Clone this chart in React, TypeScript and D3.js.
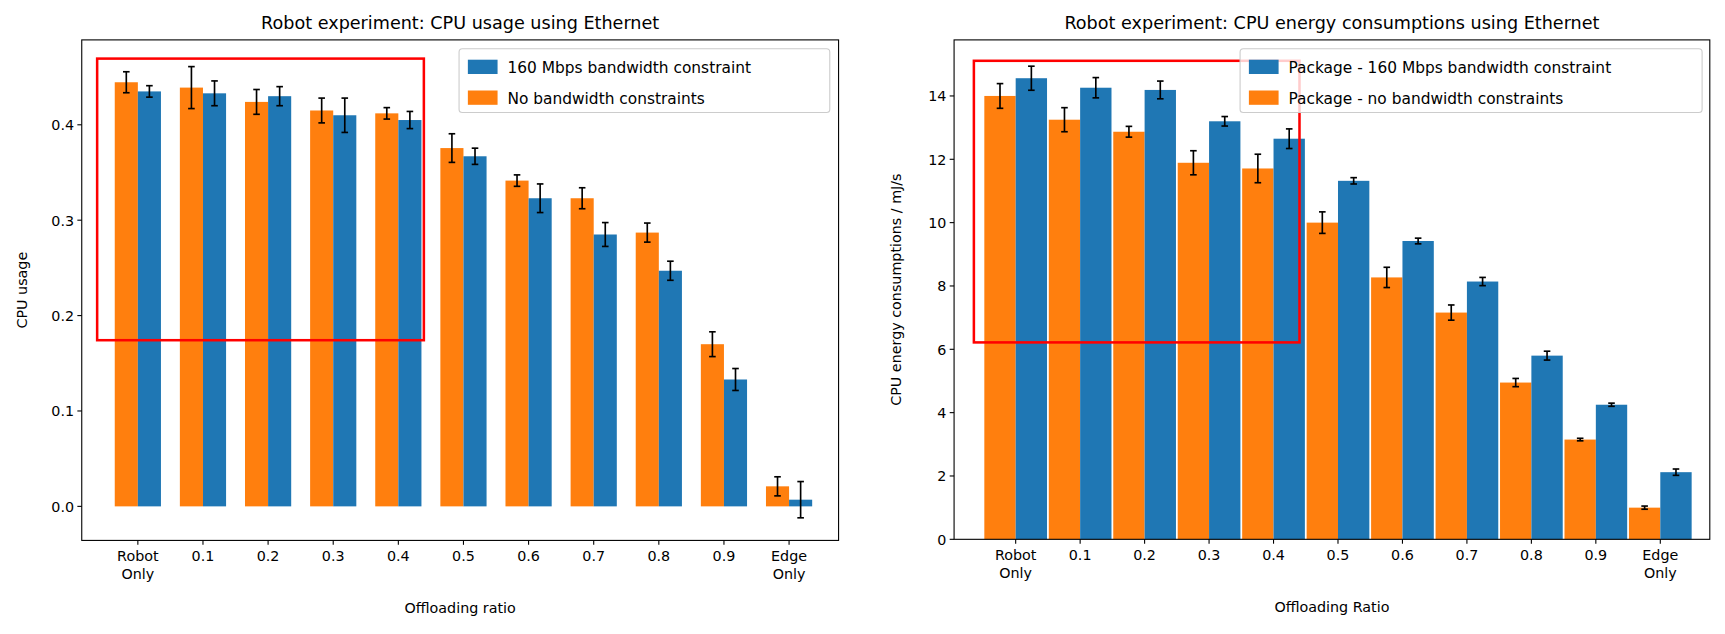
import React from "react";
import * as d3 from "d3";

const categories = ["Robot\nOnly", "0.1", "0.2", "0.3", "0.4", "0.5", "0.6", "0.7", "0.8", "0.9", "Edge\nOnly"];
const cpuNoLimit = [0.4446, 0.439, 0.424, 0.415, 0.412, 0.3756, 0.3415, 0.323, 0.287, 0.170, 0.021];
const cpuNoLimitErr = [0.011, 0.022, 0.013, 0.013, 0.006, 0.015, 0.006, 0.011, 0.01, 0.013, 0.01];
const cpu160 = [0.435, 0.433, 0.430, 0.410, 0.405, 0.367, 0.323, 0.285, 0.247, 0.133, 0.007];
const cpu160Err = [0.006, 0.013, 0.010, 0.018, 0.009, 0.0085, 0.015, 0.0125, 0.01, 0.0115, 0.019];
const enNoLimit = [14.0, 13.25, 12.87, 11.89, 11.71, 10.0, 8.27, 7.16, 4.95, 3.15, 1.0];
const enNoLimitErr = [0.39, 0.38, 0.17, 0.38, 0.45, 0.34, 0.32, 0.24, 0.13, 0.04, 0.05];
const en160 = [14.56, 14.26, 14.19, 13.2, 12.65, 11.32, 9.42, 8.14, 5.8, 4.25, 2.12];
const en160Err = [0.38, 0.32, 0.28, 0.15, 0.31, 0.1, 0.09, 0.13, 0.14, 0.05, 0.1];
const cpuTicks = [0, 0.1, 0.2, 0.3, 0.4];
const enTicks = [0, 2, 4, 6, 8, 10, 12, 14];

const ORANGE = "#ff7f0e";
const BLUE = "#1f77b4";
const FONT = "DejaVu Sans, sans-serif";

type PanelProps = {
  left: number; right: number; top: number; bottom: number;
  yDomain: [number, number]; ticks: number[]; fmt: (v: number) => string;
  first: number; last: number; barW: number;
  a: number[]; aErr: number[]; b: number[]; bErr: number[];
  title: string; xlabel: string; ylabel: string; ylabelX: number;
  legend: { x: number; w: number; labels: [string, string] };
  box: [number, number, number, number];
};

function Panel(p: PanelProps) {
  const y = d3.scaleLinear().domain(p.yDomain).range([p.bottom, p.top]);
  const x = d3.scaleLinear().domain([0, categories.length - 1]).range([p.first, p.last]);
  const err = (cx: number, v: number, e: number, key: string) => (
    <g key={key} stroke="#000" strokeWidth={1.5}>
      <line x1={cx} x2={cx} y1={y(v - e)} y2={y(v + e)} />
      <line x1={cx - 3} x2={cx + 3} y1={y(v - e)} y2={y(v - e)} />
      <line x1={cx - 3} x2={cx + 3} y1={y(v + e)} y2={y(v + e)} />
    </g>
  );
  return (
    <g fontFamily={FONT}>
      <text x={(p.left + p.right) / 2} y={p.top - 10} textAnchor="middle" fontSize={16}>{p.title}</text>
      {categories.map((c, i) => {
        const cx = x(i);
        return (
          <g key={c}>
            <rect x={cx - p.barW} y={y(p.a[i])} width={p.barW} height={y(0) - y(p.a[i])} fill={ORANGE} />
            <rect x={cx} y={y(p.b[i])} width={p.barW} height={y(0) - y(p.b[i])} fill={BLUE} />
          </g>
        );
      })}
      {categories.map((c, i) => err(x(i) - p.barW / 2, p.a[i], p.aErr[i], "a" + i))}
      {categories.map((c, i) => err(x(i) + p.barW / 2, p.b[i], p.bErr[i], "b" + i))}
      <rect x={p.box[0]} y={p.box[1]} width={p.box[2] - p.box[0]} height={p.box[3] - p.box[1]} fill="none" stroke="#ff0000" strokeWidth={2.3} />
      <rect x={p.left} y={p.top} width={p.right - p.left} height={p.bottom - p.top} fill="none" stroke="#000" strokeWidth={1} />
      {p.ticks.map((t) => (
        <g key={t}>
          <line x1={p.left - 4} x2={p.left} y1={y(t)} y2={y(t)} stroke="#000" />
          <text x={p.left - 7} y={y(t) + 5} textAnchor="end" fontSize={13}>{p.fmt(t)}</text>
        </g>
      ))}
      {categories.map((c, i) => (
        <g key={c}>
          <line x1={x(i)} x2={x(i)} y1={p.bottom} y2={p.bottom + 4} stroke="#000" />
          {c.split("\n").map((s, k) => (
            <text key={k} x={x(i)} y={p.bottom + 19 + k * 16} textAnchor="middle" fontSize={13}>{s}</text>
          ))}
        </g>
      ))}
      <text x={(p.left + p.right) / 2} y={p.bottom + 66} textAnchor="middle" fontSize={13}>{p.xlabel}</text>
      <text transform={`translate(${p.ylabelX},${(p.top + p.bottom) / 2}) rotate(-90)`} textAnchor="middle" fontSize={13}>{p.ylabel}</text>
      <g>
        <rect x={p.legend.x} y={p.top + 8} width={p.legend.w} height={58} rx={3} fill="#fff" fillOpacity={0.8} stroke="#ccc" />
        <rect x={p.legend.x + 8} y={p.top + 18} width={27} height={13} fill={BLUE} />
        <text x={p.legend.x + 44} y={p.top + 30} fontSize={14}>{p.legend.labels[0]}</text>
        <rect x={p.legend.x + 8} y={p.top + 46} width={27} height={13} fill={ORANGE} />
        <text x={p.legend.x + 44} y={p.top + 58} fontSize={14}>{p.legend.labels[1]}</text>
      </g>
    </g>
  );
}

export default function App() {
  return (
    <svg width={1709} height={618} viewBox="0 0 1553.5 561.8" style={{ display: "block" }}>
      <rect width={1553.5} height={561.8} fill="#fff" />
      <Panel left={67} right={755} top={29} bottom={484} yDomain={[-0.0357, 0.489]} ticks={cpuTicks}
        fmt={(v) => v.toFixed(1)} first={118} last={710} barW={21}
        a={cpuNoLimit} aErr={cpuNoLimitErr} b={cpu160} bErr={cpu160Err}
        title="Robot experiment: CPU usage using Ethernet" xlabel="Offloading ratio" ylabel="CPU usage" ylabelX={17}
        legend={{ x: 410, w: 337, labels: ["160 Mbps bandwidth constraint", "No bandwidth constraints"] }}
        box={[81, 46, 378, 302]} />
      <Panel left={860} right={1547} top={29} bottom={483} yDomain={[0, 15.77]} ticks={enTicks}
        fmt={(v) => String(v)} first={916} last={1502} barW={28.5}
        a={enNoLimit} aErr={enNoLimitErr} b={en160} bErr={en160Err}
        title="Robot experiment: CPU energy consumptions using Ethernet" xlabel="Offloading Ratio" ylabel="CPU energy consumptions / mJ/s" ylabelX={812}
        legend={{ x: 1120, w: 420, labels: ["Package - 160 Mbps bandwidth constraint", "Package - no bandwidth constraints"] }}
        box={[878, 48, 1174, 304]} />
    </svg>
  );
}
